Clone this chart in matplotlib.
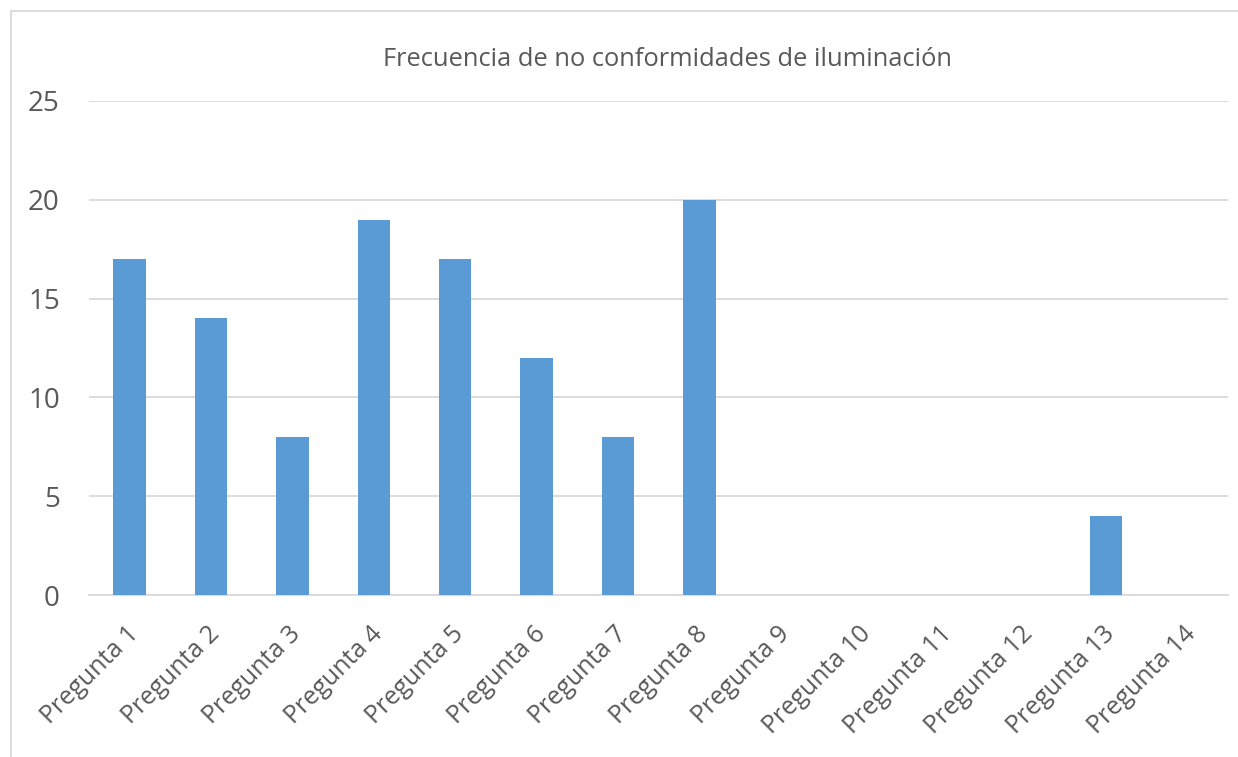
import matplotlib.pyplot as plt
from matplotlib.lines import Line2D
import matplotlib.transforms as mtransforms

categories = [f"Pregunta {i}" for i in range(1, 15)]
values = [17, 14, 8, 19, 17, 12, 8, 20, 0, 0, 0, 0, 4, 0]
yticks = [0, 5, 10, 15, 20, 25]

plt.rcParams["font.family"] = ["Open Sans", "DejaVu Sans"]
text_color = "#595959"

fig = plt.figure(figsize=(12.38, 7.57), dpi=100)
ax = fig.add_axes([0.0719, 0.214, 0.9201, 0.6526])

x = range(len(categories))
ax.bar(x, values, width=0.4, color="#5b9bd5", zorder=3)

ax.set_xlim(-0.5, len(categories) - 0.5)
ax.set_ylim(0, 25)
ax.set_yticks(yticks)
ax.set_yticklabels([str(v) for v in yticks], fontsize=20, color=text_color)
ax.yaxis.grid(True, color="#d9d9d9", linewidth=1.3, zorder=0)
ax.tick_params(axis="y", length=0, pad=21)
ax.tick_params(axis="x", length=0, pad=4)

ax.set_xticks(list(x))
ax.set_xticklabels(categories, fontsize=18, color=text_color, rotation=45,
                   ha="right", va="center", rotation_mode="anchor")
offset = mtransforms.ScaledTranslation(5 / 100, -30 / 100, fig.dpi_scale_trans)
for lbl in ax.get_xticklabels():
    lbl.set_transform(lbl.get_transform() + offset)

for side in ["top", "right", "left"]:
    ax.spines[side].set_visible(False)
ax.spines["bottom"].set_color("#d9d9d9")
ax.spines["bottom"].set_linewidth(1.3)

ax.set_title("Frecuencia de no conformidades de iluminación", fontsize=18.4,
             color=text_color, pad=25, x=0.508)

# chart frame
fig.add_artist(Line2D([11 / 1238, 11 / 1238], [0, 1 - 11 / 757],
                      transform=fig.transFigure, color="#d9d9d9", linewidth=1.3))
fig.add_artist(Line2D([11 / 1238, 1], [1 - 11 / 757, 1 - 11 / 757],
                      transform=fig.transFigure, color="#d9d9d9", linewidth=1.3))

fig.savefig("out.png", dpi=100)
